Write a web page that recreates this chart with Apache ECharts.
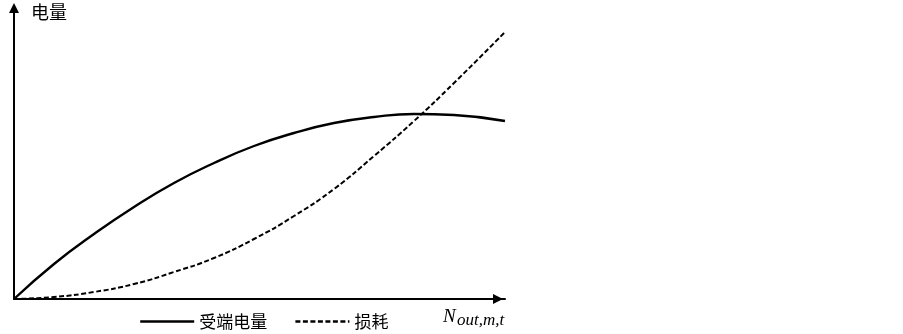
<!DOCTYPE html>
<html><head><meta charset="utf-8">
<script src="https://cdn.jsdelivr.net/npm/echarts@6/dist/echarts.min.js"></script>
<style>html,body{margin:0;padding:0;background:#fff}#c{width:903px;height:334px}</style>
</head><body><div id="c"></div>
<script>
// x positions (arbitrary units along N_out,m,t)
const xValues = [0, 40, 80, 120, 160, 200, 240, 280, 320, 360, 400, 440, 491];
const receivedEnergy = [0, 35, 65, 92, 116, 136, 153, 166, 176, 182, 185, 184, 178];
const loss = [0, 2, 7, 15, 27, 41, 60, 83, 110, 143, 178, 216, 267];
const seriesNames = ['受端电量', '损耗'];
const yAxisName = '电量';
const xAxisMain = 'N';
const xAxisSub = 'out,m,t';

const pair = (xs, ys) => xs.map((x, i) => [x, ys[i]]);
const cjk = '"Noto Sans CJK SC", "Noto Sans", sans-serif';
const serif = '"Liberation Serif", "DejaVu Serif", serif';

const chart = echarts.init(document.getElementById('c'), null, {renderer: 'canvas'});
chart.setOption({
  animation: false,
  backgroundColor: '#fff',
  grid: {left: 14, top: 8, width: 491, height: 291, containLabel: false},
  xAxis: {
    type: 'value', min: 0, max: 491,
    axisLine: {show: true, lineStyle: {color: '#000', width: 2}, symbol: ['none', 'triangle'], symbolSize: [10, 10], symbolOffset: [0, -7]},
    axisTick: {show: false}, axisLabel: {show: false}, splitLine: {show: false}
  },
  yAxis: {
    type: 'value', min: 0, max: 291,
    axisLine: {show: true, lineStyle: {color: '#000', width: 2}, symbol: ['none', 'triangle'], symbolSize: [10, 10]},
    axisTick: {show: false}, axisLabel: {show: false}, splitLine: {show: false}
  },
  legend: {
    data: seriesNames,
    left: 139, top: 313, padding: 0,
    itemWidth: 54, itemHeight: 16, itemGap: 27,
    itemStyle: {opacity: 0},
    lineStyle: {width: 2.4},
    textStyle: {fontSize: 17, color: '#000', fontFamily: cjk}
  },
  series: [
    {
      name: seriesNames[0], type: 'line', smooth: 0.5, symbol: 'none',
      data: pair(xValues, receivedEnergy),
      lineStyle: {color: '#000', width: 2.4, type: 'solid'},
      itemStyle: {color: '#000'}
    },
    {
      name: seriesNames[1], type: 'line', smooth: 0.5, symbol: 'none',
      data: pair(xValues, loss),
      lineStyle: {color: '#000', width: 2, type: [5, 2.5]},
      itemStyle: {color: '#000'}
    }
  ],
  graphic: [
    {type: 'text', left: 31, top: 3, style: {text: yAxisName, font: '18px ' + cjk, fill: '#000'}},
    {type: 'text', left: 443, top: 307, style: {text: xAxisMain, font: 'italic 19px ' + serif, fill: '#000'}},
    {type: 'text', left: 457, top: 312, style: {text: xAxisSub, font: 'italic 17px ' + serif, fill: '#000'}}
  ]
});
</script>
</body></html>
